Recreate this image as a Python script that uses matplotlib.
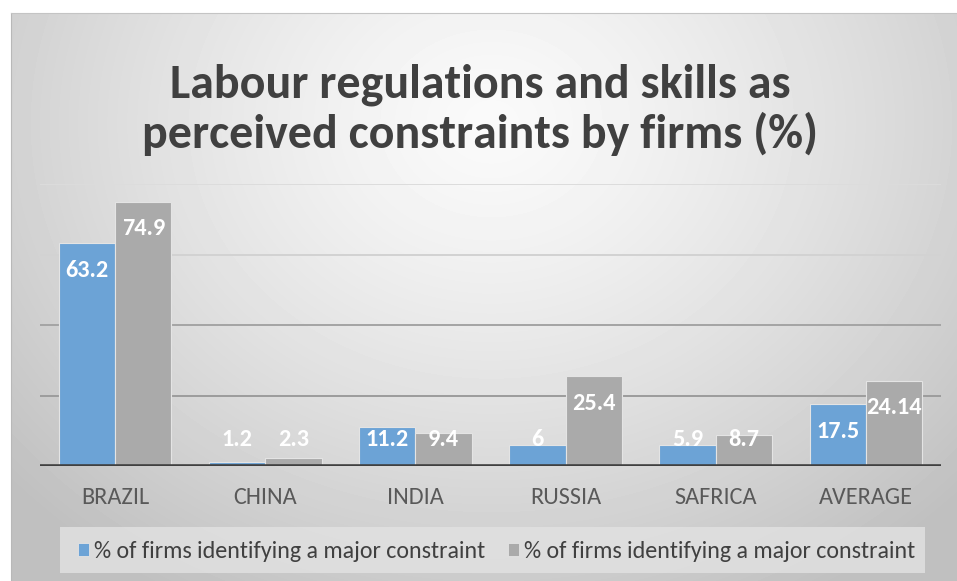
import numpy as np
import matplotlib

matplotlib.use("Agg")
import matplotlib.pyplot as plt
from matplotlib.patches import Rectangle

plt.rcParams["font.family"] = ["Carlito", "DejaVu Sans"]

# values per country (%), two survey series
countries = ["BRAZIL", "CHINA", "INDIA", "RUSSIA", "SAFRICA", "AVERAGE"]
series_a = [63.2, 1.2, 11.2, 6, 5.9, 17.5]
series_b = [74.9, 2.3, 9.4, 25.4, 8.7, 24.14]
label_a = "% of firms identifying a major constraint"
label_b = "% of firms identifying a major constraint"
grid_levels = [20, 40, 60, 80]
grid_colors = ["#9c9c9c", "#a4a4a4", "#d2d2d2", "#dcdcdc"]

BLUE = "#6ca3d6"
GRAY = "#aaaaaa"
W, H = 957, 581

fig = plt.figure(figsize=(W / 100, H / 100), dpi=100)

# radial gradient backdrop for the chart area
bg = fig.add_axes([11 / W, 0, 1 - 11 / W, (H - 13) / H], zorder=-10)
yy, xx = np.mgrid[0:H - 13, 0:W - 11]
d = np.sqrt(((xx - 480) / 640.0) ** 2 + ((yy - 110) / 540.0) ** 2)
shade = 250 - 58 * np.clip(d, 0, 1) ** 1.3
bg.imshow(shade, cmap="gray", vmin=0, vmax=255, aspect="auto",
          interpolation="bilinear")
bg.set_xticks([])
bg.set_yticks([])
for s in ["right", "bottom"]:
    bg.spines[s].set_visible(False)
bg.spines["top"].set_color("#c4c4c4")
bg.spines["left"].set_color("#b8b8b8")

ax = fig.add_axes([40 / W, (H - 466) / H, 901 / W, 282 / H])
ax.patch.set_alpha(0)
for s in ax.spines.values():
    s.set_visible(False)

x = np.arange(len(countries))
bw = 0.375
ax.bar(x - bw / 2, series_a, bw, color=BLUE, edgecolor="#e4e4e4", lw=0.8, zorder=3)
ax.bar(x + bw / 2, series_b, bw, color=GRAY, edgecolor="#e4e4e4", lw=0.8, zorder=3)

for lvl, c in zip(grid_levels, grid_colors):
    ax.axhline(lvl, color=c, lw=1.4, zorder=1)
ax.axhline(0, color="#404040", lw=2.6, zorder=4)

# value labels at the inside end of each bar, kept above the baseline area
for xs, vals in ((x - bw / 2, series_a), (x + bw / 2, series_b)):
    for xi, v in zip(xs, vals):
        ax.text(xi, max(v - 7.6, 7.4), f"{v:g}", ha="center", va="center",
                color="white", fontsize=17.5, fontweight="bold", zorder=5)

ax.set_xlim(-0.5, len(countries) - 0.5)
ax.set_ylim(0, 80)
ax.set_yticks([])
ax.set_xticks(x)
ax.set_xticklabels(countries, fontsize=17.5, color="#595959")
ax.tick_params(axis="x", length=0, pad=15)

fig.text(0.502, 1 - 97 / H, "Labour regulations and skills as",
         ha="center", va="baseline", fontsize=34.5, fontweight="bold", color="#404040")
fig.text(0.502, 1 - 148 / H, "perceived constraints by firms (%)",
         ha="center", va="baseline", fontsize=34.5, fontweight="bold", color="#404040")

# legend panel
fig.add_artist(Rectangle((60 / W, 8 / H), 865 / W, 46 / H, transform=fig.transFigure,
                         facecolor="#e2e2e2", edgecolor="none", alpha=0.8, zorder=1))
for sx, col, lab in ((78, BLUE, label_a), (508, GRAY, label_b)):
    fig.add_artist(Rectangle((sx / W, 25 / H), 11 / W, 13 / H, transform=fig.transFigure,
                             facecolor=col, edgecolor="#e4e4e4", lw=0.6, zorder=2))
    fig.text((sx + 16) / W, 23 / H, lab, ha="left", va="baseline",
             fontsize=17.3, color="#404040", zorder=3)

fig.savefig("out.png", dpi=100)
